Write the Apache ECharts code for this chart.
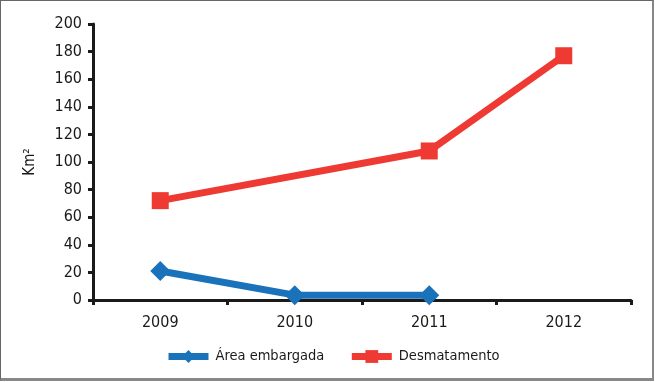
<!DOCTYPE html>
<html><head><meta charset="utf-8">
<script src="https://cdn.jsdelivr.net/npm/echarts@6/dist/echarts.min.js"></script>
<style>
html,body{margin:0;padding:0;background:#fff;}
#c{position:absolute;left:0;top:0;width:651px;height:377px;border:1px solid #666;border-right:2px solid #888;border-bottom:3px solid #888;}
</style></head><body>
<div id="c"></div>
<script>
const categories = ['2009','2010','2011','2012'];
const areaEmbargada = [21, 3.5, 3.5, null];
const desmatamento = [72, null, 108, 177];
const yTicks = {min:0, max:200, interval:20};
const font = '"Liberation Sans Narrow","DejaVu Sans Condensed",Arial,sans-serif';
const chart = echarts.init(document.getElementById('c'));
chart.setOption({
  animation:false,
  grid:{left:92,right:21,top:23,bottom:78},
  xAxis:{type:'category',data:categories,boundaryGap:true,
    axisLine:{lineStyle:{color:'#1a1a1a',width:3}},
    axisTick:{show:true,length:5,lineStyle:{color:'#1a1a1a',width:3}},
    axisLabel:{color:'#1a1a1a',fontSize:16,fontFamily:font,margin:15}},
  yAxis:{type:'value',min:yTicks.min,max:yTicks.max,interval:yTicks.interval,
    name:'Km²',nameLocation:'middle',nameGap:55,nameRotate:90,
    nameTextStyle:{color:'#1a1a1a',fontSize:15,fontFamily:font},
    splitLine:{show:false},
    axisLine:{show:true,lineStyle:{color:'#1a1a1a',width:3}},
    axisTick:{show:true,length:5,lineStyle:{color:'#1a1a1a',width:3}},
    axisLabel:{color:'#1a1a1a',fontSize:16,fontFamily:font,margin:11}},
  legend:{bottom:9,left:159,itemWidth:40,itemHeight:16,itemGap:24,
    lineStyle:{width:7},
    textStyle:{color:'#1a1a1a',fontSize:14.5,fontFamily:font,padding:[0,0,0,2]},
    data:['Área embargada','Desmatamento']},
  series:[
    {name:'Área embargada',type:'line',data:areaEmbargada,symbol:'diamond',symbolSize:20,
     lineStyle:{width:7,color:'#1a72bb'},itemStyle:{color:'#1a72bb'},connectNulls:false},
    {name:'Desmatamento',type:'line',data:desmatamento,symbol:'rect',symbolSize:17,
     lineStyle:{width:7,color:'#ee3a33'},itemStyle:{color:'#ee3a33'},connectNulls:true}
  ]
});
</script></body></html>
